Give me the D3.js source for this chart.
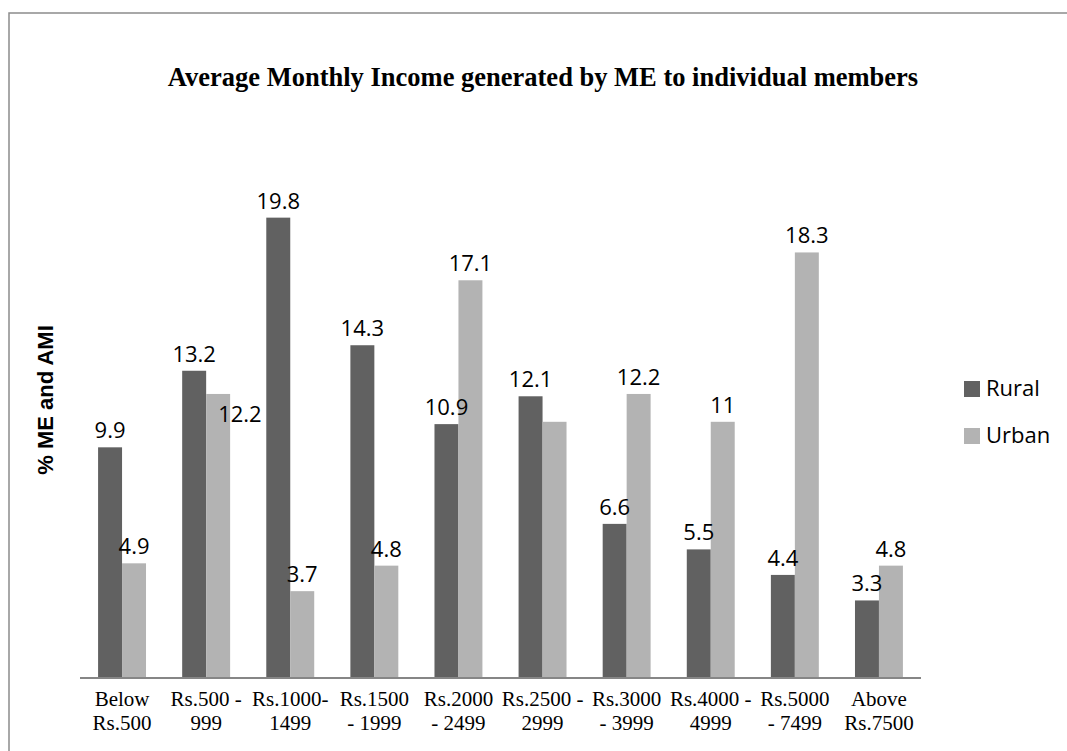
<!DOCTYPE html>
<html>
<head>
<meta charset="utf-8">
<script src="https://cdn.jsdelivr.net/npm/d3@7"></script>
<style>
  html, body { margin: 0; padding: 0; background: #fff; }
  svg { display: block; }
</style>
</head>
<body>
<div id="chart"></div>
<script>
const categories = [
  ["Below", "Rs.500"],
  ["Rs.500 -", "999"],
  ["Rs.1000-", "1499"],
  ["Rs.1500", "- 1999"],
  ["Rs.2000", "- 2499"],
  ["Rs.2500 -", "2999"],
  ["Rs.3000", "- 3999"],
  ["Rs.4000 -", "4999"],
  ["Rs.5000", "- 7499"],
  ["Above", "Rs.7500"],
]
const seriesNames = ["Rural", "Urban"]
const rural = [9.9, 13.2, 19.8, 14.3, 10.9, 12.1, 6.6, 5.5, 4.4, 3.3]
const urban = [4.9, 12.2, 3.7, 4.8, 17.1, 11.0, 12.2, 11, 18.3, 4.8]
// the reference shows no label on the urban bar of Rs.2500 - 2999
const ruralLabels = ["9.9", "13.2", "19.8", "14.3", "10.9", "12.1", "6.6", "5.5", "4.4", "3.3"]
const urbanLabels = ["4.9", "12.2", "3.7", "4.8", "17.1", null, "12.2", "11", "18.3", "4.8"]

const width = 1067
const height = 751
const margin = { top: 213, right: 146, bottom: 74, left: 80 }
const colors = { Rural: "#616161", Urban: "#b3b3b3" }

const svg = d3.select("#chart")
  .append("svg")
  .attr("width", width)
  .attr("height", height)

// outer frame (runs off the right and bottom edges)
svg.append("rect")
  .attr("x", 9)
  .attr("y", 13)
  .attr("width", width + 40)
  .attr("height", height + 40)
  .attr("fill", "none")
  .attr("stroke", "#8c8c8c")
  .attr("stroke-width", 1.5)

svg.append("text")
  .attr("x", 543)
  .attr("y", 86)
  .attr("text-anchor", "middle")
  .style("font-family", "'Liberation Serif', 'Times New Roman', serif")
  .style("font-weight", "bold")
  .style("font-size", "26.5px")
  .text("Average Monthly Income generated by ME to individual members")

const x = d3.scaleBand()
  .domain(d3.range(categories.length))
  .range([margin.left, width - margin.right])
  .paddingInner(0.43)
  .paddingOuter(0.215)

const xSub = d3.scaleBand()
  .domain(seriesNames)
  .range([0, x.bandwidth()])

const y = d3.scaleLinear()
  .domain([0, 20])
  .range([height - margin.bottom, margin.top])

const rows = categories.map((c, i) => ({
  i,
  values: [
    { key: "Rural", value: rural[i], label: ruralLabels[i], other: urban[i] },
    { key: "Urban", value: urban[i], label: urbanLabels[i], other: rural[i] },
  ],
}))

const barLayer = svg.append("g")
const labelLayer = svg.append("g")

barLayer.selectAll("g")
  .data(rows)
  .join("g")
  .attr("transform", d => `translate(${x(d.i)},0)`)
  .selectAll("rect")
  .data(d => d.values)
  .join("rect")
  .attr("x", d => xSub(d.key))
  .attr("y", d => y(d.value))
  .attr("width", xSub.bandwidth())
  .attr("height", d => y(0) - y(d.value))
  .attr("fill", d => colors[d.key])

// an urban label that would collide with the rural one drops onto its bar, shifted right
const besideBar = d => d.key === "Urban" && d.other > d.value && d.other - d.value < 1.5

labelLayer.selectAll("g")
  .data(rows)
  .join("g")
  .attr("transform", d => `translate(${x(d.i)},0)`)
  .selectAll("text")
  .data(d => d.values.filter(v => v.label !== null))
  .join("text")
  .attr("x", d => besideBar(d)
    ? xSub(d.key) + 12
    : xSub(d.key) + xSub.bandwidth() / 2)
  .attr("y", d => besideBar(d) ? y(d.value) + 28 : y(d.value) - 9)
  .attr("text-anchor", d => besideBar(d) ? "start" : "middle")
  .style("font-family", "'Open Sans', sans-serif")
  .style("font-size", "22px")
  .style("fill", "#000")
  .text(d => d.label)

// x axis: only the baseline, no ticks
svg.append("line")
  .attr("x1", margin.left)
  .attr("x2", width - margin.right)
  .attr("y1", y(0) + 1)
  .attr("y2", y(0) + 1)
  .attr("stroke", "#868686")
  .attr("stroke-width", 2)

const tickLabels = svg.append("g")
  .selectAll("text")
  .data(categories)
  .join("text")
  .attr("x", (d, i) => x(i) + x.bandwidth() / 2)
  .attr("y", y(0) + 29)
  .attr("text-anchor", "middle")
  .style("font-family", "'Liberation Serif', 'Times New Roman', serif")
  .style("font-size", "21px")
  .style("fill", "#000")

tickLabels.selectAll("tspan")
  .data(d => d)
  .join("tspan")
  .attr("x", function () { return d3.select(this.parentNode).attr("x") })
  .attr("dy", (d, j) => j === 0 ? 0 : 24)
  .text(d => d)

svg.append("text")
  .attr("transform", "translate(53,400) rotate(-90)")
  .attr("text-anchor", "middle")
  .style("font-family", "'Liberation Sans', Arial, sans-serif")
  .style("font-weight", "bold")
  .style("font-size", "22px")
  .text("% ME and AMI")

const legend = svg.append("g")
  .attr("transform", "translate(964,381)")

const legendItems = legend.selectAll("g")
  .data(seriesNames)
  .join("g")
  .attr("transform", (d, i) => `translate(0,${i * 47})`)

legendItems.append("rect")
  .attr("width", 16)
  .attr("height", 16)
  .attr("fill", d => colors[d])

legendItems.append("text")
  .attr("x", 22)
  .attr("y", 15)
  .style("font-family", "'Open Sans', sans-serif")
  .style("font-size", "22px")
  .text(d => d)
</script>
</body>
</html>
